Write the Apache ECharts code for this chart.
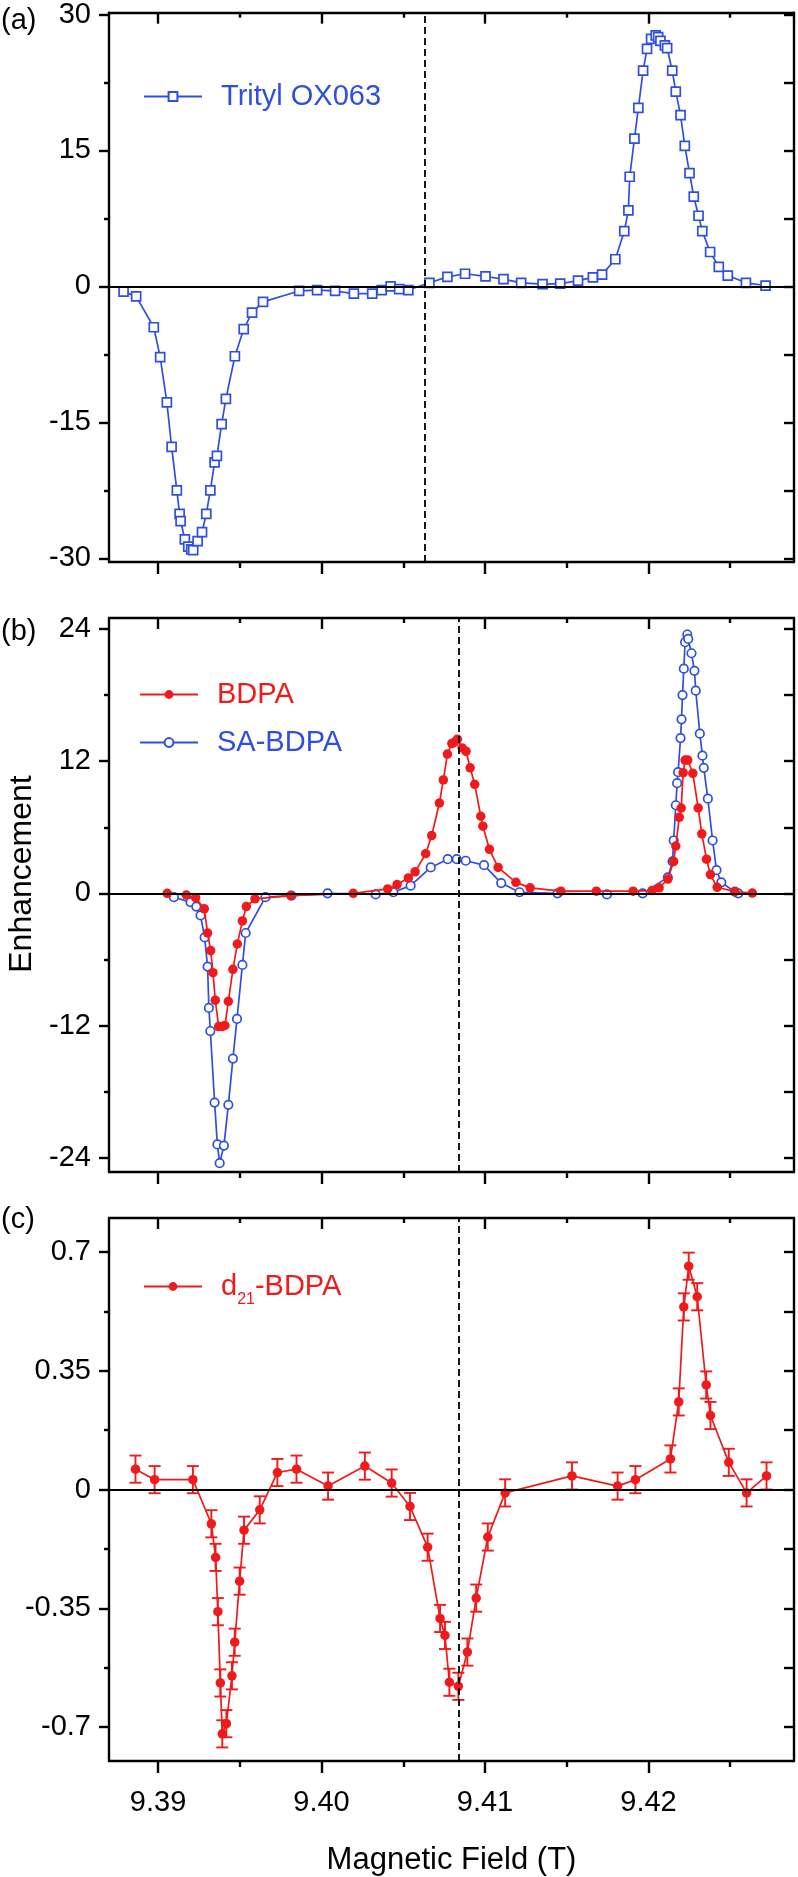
<!DOCTYPE html>
<html><head><meta charset="utf-8">
<script src="https://cdn.jsdelivr.net/npm/echarts@6/dist/echarts.min.js"></script>
<style>html,body{margin:0;padding:0;background:#fff}#c{width:798px;height:1877px}</style>
</head><body><div id="c"></div>
<script>
// ---------- data ----------
const tritylField = [9.38789, 9.38866, 9.38974, 9.39013, 9.39054, 9.39083, 9.39115, 9.39132, 9.39138, 9.39164,
  9.39185, 9.39203, 9.39215, 9.39242, 9.39269, 9.39295, 9.3932, 9.39346, 9.3936, 9.39389,
  9.39415, 9.3947, 9.39524, 9.39575, 9.39642, 9.39863, 9.39973, 9.40083, 9.40198, 9.4031,
  9.40368, 9.40423, 9.40475, 9.40531, 9.4066, 9.4077, 9.40878, 9.41003, 9.41113, 9.41221,
  9.41352, 9.4146, 9.41569, 9.4166, 9.41716, 9.41797, 9.41852, 9.41877, 9.41885, 9.41914,
  9.41938, 9.41967, 9.41991, 9.42016, 9.42044, 9.42059, 9.42073, 9.421, 9.42114, 9.42145,
  9.42167, 9.42196, 9.42222, 9.42251, 9.42277, 9.42306, 9.42329, 9.42377, 9.4243, 9.42485,
  9.42596, 9.42716];
const tritylEnh = [-0.57, -1.1, -4.5, -7.8, -12.8, -17.7, -22.5, -25.1, -25.9, -27.9,
  -28.7, -29.0, -29.1, -28.1, -27.1, -25.1, -22.5, -19.4, -18.7, -15.2,
  -12.4, -7.7, -4.7, -2.9, -1.7, -0.5, -0.4, -0.5, -0.8, -0.8,
  -0.4, 0.0, -0.3, -0.4, 0.4, 1.05, 1.4, 1.1, 0.8, 0.4,
  0.25, 0.3, 0.65, 1.0, 1.3, 3.0, 6.1, 8.4, 12.1, 16.3,
  19.7, 23.8, 26.2, 27.3, 27.7, 27.5, 27.1, 26.6, 26.3, 23.8,
  21.5, 18.9, 15.5, 12.5, 9.9, 7.8, 6.1, 3.8, 2.15, 1.2,
  0.4, 0.1];

const bdpaField = [9.39056, 9.39173, 9.3923, 9.39283, 9.39303, 9.39322, 9.39336, 9.3935, 9.39371, 9.39391,
  9.39409, 9.3943, 9.39458, 9.39485, 9.39516, 9.3954, 9.39593, 9.39812, 9.40194, 9.40405,
  9.40462, 9.40531, 9.40572, 9.40637, 9.40674, 9.40721, 9.40745, 9.4077, 9.40797, 9.40811,
  9.40831, 9.4086, 9.40884, 9.40909, 9.40937, 9.40974, 9.40987, 9.41027, 9.4108, 9.41189,
  9.41276, 9.41464, 9.41681, 9.41906, 9.42022, 9.42065, 9.42118, 9.42154, 9.42167, 9.42188,
  9.422, 9.42212, 9.42224, 9.4224, 9.42271, 9.42304, 9.42326, 9.42355, 9.42379, 9.4242,
  9.42528, 9.42635];
const bdpaEnh = [0.0, -0.15, -0.4, -1.4, -3.6, -5.2, -7.2, -9.7, -12.1, -12.1,
  -12.0, -9.8, -6.9, -4.6, -2.5, -1.2, -0.5, -0.2, 0.0, 0.4,
  0.8, 1.4, 1.95, 3.6, 5.25, 8.2, 10.3, 12.65, 13.6, 13.7,
  14.0, 13.2, 12.9, 11.4, 9.9, 7.0, 6.1, 4.0, 2.35, 1.0,
  0.5, 0.2, 0.2, 0.2, 0.25, 0.5, 1.3, 2.9, 4.3, 6.9,
  7.75, 10.96, 12.1, 12.1, 10.9, 7.75, 5.4, 3.1, 1.7, 0.55,
  0.15, 0.03];

const saBdpaField = [9.39097, 9.39199, 9.39234, 9.3926, 9.39285, 9.39303, 9.39311, 9.3932, 9.39346, 9.39363,
  9.39377, 9.39403, 9.3943, 9.39458, 9.39483, 9.39516, 9.39536, 9.39657, 9.39816, 9.40037,
  9.40331, 9.40439, 9.40545, 9.40668, 9.40772, 9.40827, 9.40882, 9.40994, 9.41099, 9.41211,
  9.41444, 9.41746, 9.41964, 9.42118, 9.42147, 9.42154, 9.42167, 9.42175, 9.42181, 9.42196,
  9.42202, 9.42208, 9.42216, 9.42224, 9.42237, 9.42243, 9.42263, 9.42281, 9.42289, 9.42314,
  9.4233, 9.42338, 9.42363, 9.42392, 9.42416, 9.42445, 9.42528, 9.42549];
const saBdpaEnh = [-0.35, -0.8, -1.2, -2.0, -4.0, -6.65, -10.4, -12.5, -19.0, -22.8,
  -24.5, -22.9, -19.2, -15.0, -11.4, -6.5, -3.6, -0.35, -0.2, 0.0,
  -0.1, 0.1, 0.7, 2.35, 3.1, 3.1, 2.96, 2.56, 0.93, 0.1,
  0.0, -0.1, 0.0, 1.45, 2.9, 4.8, 8.0, 10.0, 11.0, 14.1,
  15.8, 18.0, 20.4, 22.8, 23.5, 23.1, 21.8, 20.2, 18.4, 14.5,
  12.5, 11.4, 8.6, 4.8, 2.1, 1.0, 0.15, 0.0];

const d21Field = [9.38862, 9.38979, 9.39213, 9.39326, 9.39352, 9.39366, 9.39381, 9.39393, 9.39418, 9.39452,
  9.39469, 9.39499, 9.39526, 9.39622, 9.3973, 9.39847, 9.4004, 9.40265, 9.40429, 9.40541,
  9.40649, 9.40725, 9.40755, 9.40782, 9.40837, 9.40892, 9.40946, 9.41017, 9.41123, 9.41532,
  9.41811, 9.4192, 9.42134, 9.42185, 9.42216, 9.42246, 9.42298, 9.42353, 9.42379, 9.42491,
  9.426, 9.42722];
const d21Enh = [0.06, 0.029, 0.029, -0.101, -0.2, -0.36, -0.57, -0.72, -0.69, -0.549,
  -0.45, -0.27, -0.12, -0.06, 0.05, 0.06, 0.01, 0.069, 0.019, -0.05,
  -0.17, -0.38, -0.43, -0.568, -0.58, -0.479, -0.32, -0.14, -0.01, 0.04,
  0.01, 0.029, 0.09, 0.258, 0.538, 0.658, 0.568, 0.308, 0.218, 0.08,
  -0.01, 0.04];
const d21Err = [0.04, 0.04, 0.04, 0.04, 0.04, 0.04, 0.04, 0.04, 0.04, 0.04,
  0.04, 0.04, 0.04, 0.04, 0.04, 0.04, 0.04, 0.04, 0.04, 0.04,
  0.04, 0.04, 0.04, 0.04, 0.04, 0.04, 0.04, 0.04, 0.04, 0.04,
  0.04, 0.04, 0.04, 0.04, 0.04, 0.04, 0.04, 0.04, 0.04, 0.04,
  0.04, 0.04];

const centerFieldA = 9.40629;   // dashed line, panel (a)
const centerFieldBC = 9.40838;  // dashed line, panels (b), (c)

const xTickLabels = [9.39, 9.40, 9.41, 9.42];
const xMinorTicks = [9.395, 9.405, 9.415, 9.425];
const yTickLabelsA = [-30, -15, 0, 15, 30];
const yMinorA = [-22.5, -7.5, 7.5, 22.5];
const yTickLabelsB = [-24, -12, 0, 12, 24];
const yMinorB = [-18, -6, 6, 18];
const yTickLabelsC = [-0.7, -0.35, 0, 0.35, 0.7];
const yMinorC = [-0.525, -0.175, 0.175, 0.525];

// ---------- styling / layout ----------
const BLUE = '#2F4FE0';
const RED = '#F01A1A';
const FONT = '"Liberation Sans", Arial, Helvetica, sans-serif';
const X_MIN = 9.387, X_MAX = 9.4289;
const panels = [
  {top: 12, height: 550, min: -30.4, max: 30.2, major: yTickLabelsA, minor: yMinorA},
  {top: 618, height: 554, min: -25.3, max: 25, major: yTickLabelsB, minor: yMinorB},
  {top: 1218, height: 551, min: -0.8, max: 0.8, major: yTickLabelsC, minor: yMinorC}
];
const GL = 109, GW = 685;
const zip = (a, b) => a.map((v, i) => [v, b[i]]);

const grid = panels.map(p => ({left: GL, top: p.top, width: GW, height: p.height}));
const xAxis = [], yAxis = [];
const lw = 2.4;
panels.forEach((p, i) => {
  const base = {type: 'value', gridIndex: i, min: X_MIN, max: X_MAX, splitLine: {show: false}};
  xAxis.push(Object.assign({}, base, {
    position: 'bottom',
    axisLine: {show: true, onZero: false, lineStyle: {color: '#000', width: lw}},
    axisTick: {show: true, inside: false, length: 12, customValues: xTickLabels, lineStyle: {color: '#000', width: lw}},
    axisLabel: {show: i === 2, customValues: xTickLabels, formatter: v => v.toFixed(2),
      fontSize: 29, fontFamily: FONT, color: '#000', margin: 27},
    name: i === 2 ? 'Magnetic Field (T)' : '',
    nameLocation: 'middle', nameGap: 84,
    nameTextStyle: {fontSize: 31, fontFamily: FONT, color: '#000'}
  }));
  xAxis.push(Object.assign({}, base, {
    position: 'bottom',
    axisLine: {show: false, onZero: false},
    axisTick: {show: true, inside: false, length: 6, customValues: xMinorTicks, lineStyle: {color: '#000', width: lw}},
    axisLabel: {show: false}
  }));
  xAxis.push(Object.assign({}, base, {
    position: 'top',
    axisLine: {show: true, onZero: false, lineStyle: {color: '#000', width: lw}},
    axisTick: {show: true, inside: true, length: 11, customValues: xTickLabels, lineStyle: {color: '#000', width: lw}},
    axisLabel: {show: false}
  }));
  xAxis.push(Object.assign({}, base, {
    position: 'top',
    axisLine: {show: false, onZero: false},
    axisTick: {show: true, inside: true, length: 5, customValues: xMinorTicks, lineStyle: {color: '#000', width: lw}},
    axisLabel: {show: false}
  }));
  const ybase = {type: 'value', gridIndex: i, min: p.min, max: p.max, splitLine: {show: false}};
  yAxis.push(Object.assign({}, ybase, {
    position: 'left',
    axisLine: {show: true, onZero: false, lineStyle: {color: '#000', width: lw}},
    axisTick: {show: true, inside: false, length: 10, customValues: p.major, lineStyle: {color: '#000', width: lw}},
    axisLabel: {show: true, customValues: p.major, fontSize: 29, fontFamily: FONT, color: '#000', margin: 18,
      formatter: v => String(v)}
  }));
  yAxis.push(Object.assign({}, ybase, {
    position: 'left',
    axisLine: {show: false, onZero: false},
    axisTick: {show: true, inside: false, length: 5, customValues: p.minor, lineStyle: {color: '#000', width: lw}},
    axisLabel: {show: false}
  }));
  yAxis.push(Object.assign({}, ybase, {
    position: 'right',
    axisLine: {show: true, onZero: false, lineStyle: {color: '#000', width: lw}},
    axisTick: {show: true, inside: true, length: 10, customValues: p.major.concat(p.minor), lineStyle: {color: '#000', width: lw}},
    axisLabel: {show: false}
  }));
});

function refLines(xv) {
  return {
    silent: true, symbol: ['none', 'none'], label: {show: false}, animation: false, precision: 6,
    data: [
      {xAxis: xv, lineStyle: {color: '#000', width: 1.8, type: [7, 4]}},
      {yAxis: 0, lineStyle: {color: '#000', width: 2.2, type: 'solid'}}
    ]
  };
}

const series = [
  {
    name: 'Trityl OX063', type: 'line', xAxisIndex: 0, yAxisIndex: 0,
    data: zip(tritylField, tritylEnh),
    symbol: 'rect', symbolSize: 9,
    itemStyle: {color: '#fff', borderColor: BLUE, borderWidth: 1.7},
    lineStyle: {color: BLUE, width: 1.7},
    markLine: refLines(centerFieldA), z: 3
  },
  {
    name: 'SA-BDPA', type: 'line', xAxisIndex: 4, yAxisIndex: 3,
    data: zip(saBdpaField, saBdpaEnh),
    symbol: 'circle', symbolSize: 8.5,
    itemStyle: {color: '#fff', borderColor: BLUE, borderWidth: 1.7},
    lineStyle: {color: BLUE, width: 1.7},
    markLine: refLines(centerFieldBC), z: 3
  },
  {
    name: 'BDPA', type: 'line', xAxisIndex: 4, yAxisIndex: 3,
    data: zip(bdpaField, bdpaEnh),
    symbol: 'circle', symbolSize: 9.5,
    itemStyle: {color: RED},
    lineStyle: {color: RED, width: 1.7}, z: 4
  },
  {
    name: 'd21-BDPA-err', type: 'custom', xAxisIndex: 8, yAxisIndex: 6,
    data: d21Field.map((f, i) => [f, d21Enh[i], d21Err[i]]),
    encode: {x: 0, y: 1},
    renderItem: function (params, api) {
      const x = api.value(0), y = api.value(1), e = api.value(2);
      const t = api.coord([x, y + e]), b = api.coord([x, y - e]);
      const hw = 6;
      const st = {stroke: RED, lineWidth: 1.9, fill: null};
      return {type: 'group', children: [
        {type: 'line', shape: {x1: t[0], y1: t[1], x2: b[0], y2: b[1]}, style: st},
        {type: 'line', shape: {x1: t[0] - hw, y1: t[1], x2: t[0] + hw, y2: t[1]}, style: st},
        {type: 'line', shape: {x1: b[0] - hw, y1: b[1], x2: b[0] + hw, y2: b[1]}, style: st}
      ]};
    },
    z: 3
  },
  {
    name: 'd21-BDPA', type: 'line', xAxisIndex: 8, yAxisIndex: 6,
    data: zip(d21Field, d21Enh),
    symbol: 'circle', symbolSize: 9.5,
    itemStyle: {color: RED},
    lineStyle: {color: RED, width: 1.7},
    markLine: refLines(centerFieldBC), z: 4
  }
];

const legendBase = {orient: 'vertical', padding: 0, itemWidth: 58, itemHeight: 11, selectedMode: false,
  itemGap: 19};
const legend = [
  Object.assign({}, legendBase, {
    left: 143, top: 82,
    data: [{name: 'Trityl OX063', textStyle: {color: BLUE}}],
    textStyle: {fontSize: 29, fontFamily: FONT, color: BLUE, padding: [0, 0, 0, 14]}
  }),
  Object.assign({}, legendBase, {
    left: 139, top: 680,
    data: [{name: 'BDPA', textStyle: {color: RED}}, {name: 'SA-BDPA', textStyle: {color: BLUE}}],
    textStyle: {fontSize: 29, fontFamily: FONT, padding: [0, 0, 0, 14]}
  }),
  Object.assign({}, legendBase, {
    left: 143, top: 1272,
    data: ['d21-BDPA'],
    formatter: () => '{m|d}{s|21}{m|-BDPA}',
    textStyle: {color: RED, fontFamily: FONT, padding: [0, 0, 0, 14],
      rich: {
        m: {fontSize: 29, fontFamily: FONT, color: RED, lineHeight: 42, verticalAlign: 'middle'},
        s: {fontSize: 16, fontFamily: FONT, color: RED, lineHeight: 42, verticalAlign: 'bottom'}
      }}
  })
];

const graphic = [
  {type: 'text', x: 1, y: 21, style: {text: '(a)', font: '29px ' + FONT, fill: '#000', align: 'left', verticalAlign: 'middle'}},
  {type: 'text', x: 1, y: 632, style: {text: '(b)', font: '29px ' + FONT, fill: '#000', align: 'left', verticalAlign: 'middle'}},
  {type: 'text', x: 1, y: 1220, style: {text: '(c)', font: '29px ' + FONT, fill: '#000', align: 'left', verticalAlign: 'middle'}},
  {type: 'text', x: 22, y: 874, rotation: Math.PI / 2,
    style: {text: 'Enhancement', font: '32px ' + FONT, fill: '#000', align: 'center', verticalAlign: 'middle'}}
];

const chart = echarts.init(document.getElementById('c'), null, {renderer: 'canvas'});
chart.setOption({
  animation: false,
  backgroundColor: '#fff',
  grid, xAxis, yAxis, series, legend, graphic
});
</script>
</body></html>
